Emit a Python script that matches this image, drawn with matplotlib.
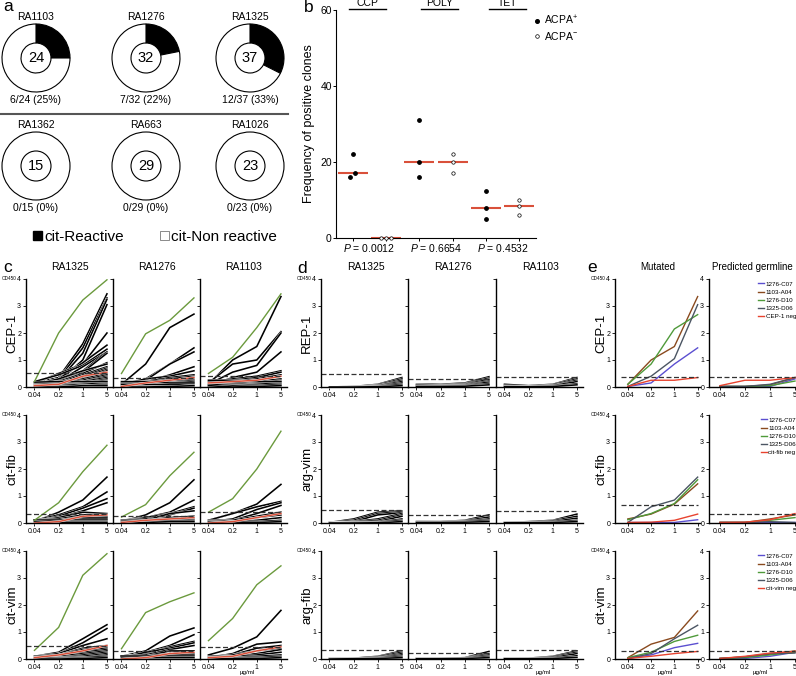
import matplotlib
matplotlib.use("Agg")
import numpy as np
import matplotlib.pyplot as plt
import matplotlib.patheffects as pe
from matplotlib.patches import Patch
from matplotlib.lines import Line2D

plt.rcParams["font.family"] = ["Liberation Sans", "DejaVu Sans"]
plt.rcParams["mathtext.fontset"] = "custom"
plt.rcParams["mathtext.rm"] = "Liberation Sans"
plt.rcParams["mathtext.it"] = "Liberation Sans:italic"

W, H = 796, 676

# ---------------- panel a data
donut_names = ["RA1103", "RA1276", "RA1325", "RA1362", "RA663", "RA1026"]
donut_total = [24, 32, 37, 15, 29, 23]
donut_reactive = [6, 7, 12, 0, 0, 0]
donut_pct = [25, 22, 33, 0, 0, 0]

# ---------------- panel b data
b_groups = ["CCP", "POLY", "TET"]
b_pvalues = ["0.0012", "0.6654", "0.4532"]
ccp_pos = [22, 17, 16]
ccp_neg = [0, 0, 0]
poly_pos = [31, 20, 16]
poly_neg = [22, 20, 17]
tet_pos = [12.5, 8, 5]
tet_neg = [10, 8.5, 6]

# ---------------- panels c/d/e data (OD450 per dose)
doses = ["0.04", "0.2", "1", "5"]
patients = ["RA1325", "RA1276", "RA1103"]
c_antigens = ["CEP-1", "cit-fib", "cit-vim"]
d_antigens = ["REP-1", "arg-vim", "arg-fib"]

c_cep1_1325 = [
    [0.15, 0.35, 1.6, 3.45], [0.1, 0.3, 1.45, 3.3], [0.12, 0.25, 1.25, 3.25],
    [0.1, 0.2, 1.0, 3.05], [0.15, 0.5, 0.85, 2.0], [0.1, 0.3, 0.9, 1.55],
    [0.2, 0.45, 0.8, 1.4], [0.1, 0.2, 0.75, 1.3], [0.15, 0.25, 0.6, 1.3],
    [0.05, 0.15, 0.55, 1.25], [0.1, 0.2, 0.5, 0.9], [0.1, 0.3, 0.6, 0.85],
    [0.05, 0.15, 0.45, 0.75], [0.1, 0.1, 0.4, 0.7], [0.05, 0.1, 0.35, 0.65],
    [0.15, 0.2, 0.3, 0.6], [0.05, 0.1, 0.3, 0.5], [0.1, 0.15, 0.25, 0.45],
    [0.05, 0.1, 0.2, 0.4], [0.1, 0.1, 0.2, 0.35], [0.05, 0.05, 0.15, 0.3],
    [0.0, 0.05, 0.15, 0.25], [0.05, 0.05, 0.1, 0.2], [0.0, 0.05, 0.1, 0.15],
    [0.0, 0.02, 0.05, 0.1], [0.0, 0.0, 0.05, 0.05], [0.18, 0.2, 0.2, 0.2],
]
c_cep1_1276 = [
    [0.1, 0.85, 2.2, 2.7], [0.05, 0.3, 0.85, 1.45], [0.1, 0.25, 0.85, 1.3],
    [0.05, 0.2, 0.45, 0.75], [0.1, 0.3, 0.4, 0.6], [0.05, 0.2, 0.35, 0.45],
    [0.1, 0.15, 0.3, 0.4], [0.05, 0.1, 0.25, 0.35], [0.15, 0.2, 0.25, 0.3],
    [0.05, 0.1, 0.2, 0.3], [0.1, 0.1, 0.15, 0.25], [0.05, 0.05, 0.15, 0.2],
    [0.0, 0.05, 0.1, 0.15], [0.05, 0.05, 0.1, 0.1], [0.0, 0.02, 0.05, 0.1],
    [0.1, 0.1, 0.1, 0.05], [0.0, 0.0, 0.02, 0.05], [0.2, 0.2, 0.15, 0.15],
]
c_cep1_1103 = [
    [0.1, 1.0, 1.5, 3.35], [0.15, 0.85, 1.0, 2.05], [0.1, 0.55, 0.8, 2.0],
    [0.05, 0.35, 0.55, 1.3], [0.15, 0.3, 0.4, 0.6], [0.1, 0.25, 0.35, 0.55],
    [0.2, 0.2, 0.3, 0.45], [0.1, 0.15, 0.25, 0.4], [0.05, 0.15, 0.2, 0.3],
    [0.1, 0.1, 0.15, 0.25], [0.05, 0.1, 0.1, 0.2], [0.0, 0.05, 0.1, 0.15],
    [0.1, 0.05, 0.05, 0.1], [0.05, 0.0, 0.02, 0.05], [0.25, 0.25, 0.2, 0.2],
]
c_fib_1325 = [
    [0.05, 0.4, 0.85, 1.7], [0.1, 0.3, 0.6, 1.15], [0.05, 0.25, 0.55, 0.9],
    [0.1, 0.2, 0.45, 0.75], [0.05, 0.2, 0.4, 0.35], [0.1, 0.15, 0.3, 0.3],
    [0.05, 0.1, 0.25, 0.25], [0.0, 0.1, 0.2, 0.2], [0.05, 0.05, 0.15, 0.15],
    [0.1, 0.1, 0.1, 0.1], [0.0, 0.05, 0.05, 0.05], [0.05, 0.02, 0.02, 0.02],
]
c_fib_1276 = [
    [0.05, 0.3, 0.75, 1.6], [0.1, 0.2, 0.4, 0.85], [0.05, 0.2, 0.35, 0.6],
    [0.1, 0.15, 0.3, 0.55], [0.05, 0.1, 0.35, 0.45], [0.05, 0.1, 0.2, 0.25],
    [0.1, 0.1, 0.15, 0.2], [0.0, 0.05, 0.1, 0.15], [0.05, 0.05, 0.1, 0.1],
    [0.0, 0.02, 0.05, 0.05],
]
c_fib_1103 = [
    [0.1, 0.35, 0.7, 1.43], [0.1, 0.35, 0.6, 0.8], [0.05, 0.15, 0.5, 0.75],
    [0.1, 0.1, 0.35, 0.65], [0.05, 0.1, 0.25, 0.4], [0.0, 0.05, 0.2, 0.3],
    [0.05, 0.05, 0.1, 0.2], [0.0, 0.05, 0.05, 0.1], [0.0, 0.0, 0.02, 0.05],
]
c_vim_1325 = [
    [0.1, 0.25, 0.75, 1.27], [0.05, 0.2, 0.6, 1.13], [0.1, 0.2, 0.5, 0.75],
    [0.05, 0.15, 0.4, 0.5], [0.1, 0.15, 0.35, 0.45], [0.05, 0.1, 0.3, 0.4],
    [0.1, 0.1, 0.25, 0.35], [0.05, 0.1, 0.2, 0.3], [0.0, 0.05, 0.15, 0.25],
    [0.05, 0.05, 0.1, 0.2], [0.0, 0.05, 0.05, 0.15], [0.05, 0.02, 0.05, 0.1],
    [0.0, 0.0, 0.02, 0.05],
]
c_vim_1276 = [
    [0.1, 0.3, 0.85, 1.15], [0.05, 0.25, 0.5, 0.9], [0.1, 0.2, 0.45, 0.65],
    [0.05, 0.25, 0.4, 0.6], [0.1, 0.15, 0.35, 0.5], [0.05, 0.1, 0.3, 0.3],
    [0.0, 0.1, 0.2, 0.2], [0.05, 0.05, 0.15, 0.15], [0.1, 0.1, 0.1, 0.1],
    [0.0, 0.05, 0.05, 0.05],
]
c_vim_1103 = [
    [0.15, 0.4, 0.82, 1.8], [0.05, 0.2, 0.55, 0.63], [0.1, 0.15, 0.4, 0.5],
    [0.05, 0.15, 0.3, 0.4], [0.1, 0.1, 0.2, 0.35], [0.05, 0.1, 0.15, 0.25],
    [0.0, 0.05, 0.1, 0.15], [0.05, 0.05, 0.05, 0.1], [0.0, 0.02, 0.02, 0.05],
]
c_black = [[c_cep1_1325, c_cep1_1276, c_cep1_1103],
           [c_fib_1325, c_fib_1276, c_fib_1103],
           [c_vim_1325, c_vim_1276, c_vim_1103]]
c_green = [[[0.2, 2.0, 3.22, 3.97], [0.5, 1.97, 2.47, 3.3], [0.5, 1.1, 2.2, 3.45]],
           [[0.1, 0.75, 1.9, 2.88], [0.22, 0.68, 1.75, 2.62], [0.4, 0.9, 2.0, 3.4]],
           [[0.32, 1.17, 3.1, 3.9], [0.38, 1.72, 2.12, 2.45], [0.68, 1.5, 2.75, 3.45]]]
c_red = [[[0.05, 0.1, 0.4, 0.55], [0.02, 0.15, 0.25, 0.35], [0.15, 0.2, 0.25, 0.4]],
         [[0.0, 0.05, 0.25, 0.3], [0.02, 0.1, 0.15, 0.2], [0.0, 0.05, 0.2, 0.35]],
         [[0.05, 0.15, 0.3, 0.5], [0.0, 0.05, 0.2, 0.25], [0.05, 0.1, 0.3, 0.45]]]
c_cut = [[0.53, 0.35, 0.4], [0.35, 0.25, 0.4], [0.5, 0.3, 0.45]]

d_rep1_1325 = [[0.0, 0.02, 0.1, 0.35], [0.0, 0.02, 0.08, 0.3], [0.0, 0.02, 0.05, 0.25],
               [0.0, 0.01, 0.05, 0.2], [0.0, 0.01, 0.03, 0.15], [0.0, 0.0, 0.02, 0.1],
               [0.0, 0.0, 0.01, 0.05]]
d_rep1_1276 = [[0.1, 0.1, 0.15, 0.38], [0.05, 0.08, 0.12, 0.33], [0.08, 0.06, 0.1, 0.28],
               [0.05, 0.05, 0.08, 0.22], [0.03, 0.04, 0.06, 0.18], [0.02, 0.03, 0.05, 0.12],
               [0.02, 0.02, 0.03, 0.08]]
d_rep1_1103 = [[0.1, 0.05, 0.1, 0.35], [0.05, 0.03, 0.08, 0.3], [0.03, 0.02, 0.05, 0.25],
               [0.02, 0.02, 0.05, 0.2], [0.02, 0.01, 0.03, 0.12], [0.01, 0.01, 0.02, 0.08]]
d_vim_1325 = [[0.02, 0.15, 0.4, 0.45], [0.02, 0.1, 0.35, 0.42], [0.02, 0.05, 0.3, 0.38],
              [0.0, 0.05, 0.15, 0.35], [0.0, 0.03, 0.1, 0.3], [0.0, 0.02, 0.05, 0.25],
              [0.0, 0.02, 0.03, 0.15], [0.0, 0.01, 0.02, 0.1], [0.0, 0.0, 0.01, 0.05]]
d_vim_1276 = [[0.05, 0.05, 0.1, 0.3], [0.05, 0.05, 0.08, 0.22], [0.03, 0.04, 0.06, 0.15],
              [0.02, 0.03, 0.05, 0.1], [0.02, 0.02, 0.03, 0.05]]
d_vim_1103 = [[0.02, 0.05, 0.1, 0.33], [0.02, 0.03, 0.08, 0.25], [0.01, 0.02, 0.05, 0.18],
              [0.01, 0.02, 0.03, 0.1], [0.01, 0.01, 0.02, 0.05]]
d_fib_1325 = [[0.02, 0.03, 0.1, 0.3], [0.02, 0.03, 0.08, 0.25], [0.01, 0.02, 0.05, 0.2],
              [0.01, 0.02, 0.04, 0.15], [0.01, 0.01, 0.03, 0.1], [0.0, 0.01, 0.02, 0.05]]
d_fib_1276 = [[0.02, 0.02, 0.05, 0.28], [0.02, 0.02, 0.04, 0.2], [0.01, 0.02, 0.03, 0.15],
              [0.01, 0.01, 0.02, 0.1], [0.01, 0.01, 0.02, 0.05]]
d_fib_1103 = [[0.02, 0.03, 0.1, 0.3], [0.02, 0.02, 0.08, 0.25], [0.01, 0.02, 0.05, 0.2],
              [0.01, 0.01, 0.03, 0.12], [0.01, 0.01, 0.02, 0.06]]
d_black = [[d_rep1_1325, d_rep1_1276, d_rep1_1103],
           [d_vim_1325, d_vim_1276, d_vim_1103],
           [d_fib_1325, d_fib_1276, d_fib_1103]]
d_cut = [[0.5, 0.3, 0.38], [0.5, 0.3, 0.45], [0.35, 0.22, 0.35]]

e_clones = ["1276-C07", "1103-A04", "1276-D10", "1325-D06"]
e_neg_labels = ["CEP-1 neg", "cit-fib neg", "cit-vim neg"]
e_mut_cep1 = [[0.02, 0.15, 0.85, 1.45], [0.1, 1.0, 1.5, 3.35],
              [0.1, 0.85, 2.15, 2.68], [0.02, 0.4, 1.05, 3.05]]
e_mut_fib = [[0.02, 0.02, 0.02, 0.12], [0.15, 0.33, 0.7, 1.45],
             [0.12, 0.35, 0.72, 1.6], [0.02, 0.6, 0.85, 1.7]]
e_mut_vim = [[0.02, 0.15, 0.42, 0.58], [0.05, 0.55, 0.8, 1.78],
             [0.05, 0.25, 0.65, 0.88], [0.02, 0.2, 0.75, 1.25]]
e_germ_cep1 = [[0.02, 0.02, 0.02, 0.3], [0.02, 0.02, 0.08, 0.35],
               [0.02, 0.02, 0.05, 0.22], [0.02, 0.02, 0.1, 0.35]]
e_germ_fib = [[0.02, 0.02, 0.02, 0.02], [0.02, 0.02, 0.15, 0.3],
              [0.02, 0.02, 0.1, 0.2], [0.02, 0.02, 0.05, 0.02]]
e_germ_vim = [[0.02, 0.02, 0.1, 0.25], [0.02, 0.08, 0.18, 0.3],
              [0.02, 0.05, 0.15, 0.25], [0.02, 0.08, 0.2, 0.22]]
e_mut = [e_mut_cep1, e_mut_fib, e_mut_vim]
e_germ = [e_germ_cep1, e_germ_fib, e_germ_vim]
e_mut_neg = [[0.02, 0.25, 0.25, 0.35], [0.02, 0.03, 0.1, 0.33], [0.02, 0.1, 0.2, 0.28]]
e_germ_neg = [[0.05, 0.25, 0.25, 0.35], [0.02, 0.03, 0.12, 0.35], [0.02, 0.1, 0.22, 0.28]]
e_mut_cut = [0.38, 0.65, 0.3]
e_germ_cut = [0.38, 0.33, 0.3]

# ---------------- styles
GREEN = "#6b9a3d"
RED = "#d9503a"
E_COLORS = ["#5b4fd0", "#8a4a1e", "#4f9a3a", "#4b5563"]
E_RED = "#e8432f"
white_edge = [pe.Stroke(linewidth=1.6, foreground="white"), pe.Normal()]

fig = plt.figure(figsize=(W / 100, H / 100), dpi=100)


def px_axes(x, y, w, h):
    return fig.add_axes([x / W, 1 - (y + h) / H, w / W, h / H])


# ---------------- panel a: donuts
ax_a = px_axes(0, 0, 300, 250)
donut_cx = [36, 146, 250, 36, 146, 250]
donut_cy = [58, 58, 58, 166, 166, 166]
for i, name in enumerate(donut_names):
    cx, cy = donut_cx[i], 250 - donut_cy[i]
    r, t = donut_reactive[i], donut_total[i]
    ax_a.pie([r, t - r], colors=["black", "white"], startangle=90, counterclock=False,
             radius=34, center=(cx, cy),
             wedgeprops=dict(width=19, edgecolor="black", linewidth=0.8))
    ax_a.text(cx, cy, str(t), ha="center", va="center", fontsize=10.5)
    ax_a.text(cx, cy + 41, name, ha="center", va="center", fontsize=7.5)
    ax_a.text(cx, cy - 42, f"{r}/{t} ({donut_pct[i]}%)", ha="center", va="center", fontsize=7.5)
ax_a.axhline(250 - 114, xmin=0, xmax=288 / 300, color="#555555", lw=1.5)
ax_a.set_xlim(0, 300)
ax_a.set_ylim(0, 250)
ax_a.axis("off")
fig.legend(handles=[Patch(fc="black", ec="black"), Patch(fc="white", ec="#777777", lw=0.6)],
           labels=["cit-Reactive", "cit-Non reactive"], loc="center",
           bbox_to_anchor=(155 / W, 1 - 237 / H), ncol=2, frameon=False, fontsize=11,
           handlelength=0.55, handleheight=0.55, handletextpad=0.15, columnspacing=2.4)

# ---------------- panel b: dot plot
ax_b = px_axes(336, 10, 200, 228)
b_pos = [ccp_pos, poly_pos, tet_pos]
b_neg = [ccp_neg, poly_neg, tet_neg]
b_pos_off = [[0, 0.08, -0.07], [0, 0, 0], [0, 0, 0]]
b_neg_off = [[-0.15, 0, 0.15], [0, 0, 0], [0, 0, 0]]
b_header_x = [1.45, 3.6, 5.65]
for g in range(3):
    xp, xn = 2 * g + 1, 2 * g + 2
    ax_b.scatter(np.array(b_pos_off[g]) + xp, b_pos[g], s=6, color="black", zorder=3, clip_on=False)
    ax_b.scatter(np.array(b_neg_off[g]) + xn, b_neg[g], s=6, facecolor="white",
                 edgecolor="black", linewidth=0.5, zorder=3, clip_on=False)
    ax_b.hlines([np.median(b_pos[g]), np.median(b_neg[g])], [xp - 0.45, xn - 0.45],
                [xp + 0.45, xn + 0.45], color=RED, lw=1.5, zorder=2, clip_on=False)
    ax_b.annotate(f"$\\it{{P}}$ = {b_pvalues[g]}", xy=(xp + 0.5, 0),
                  xycoords=("data", "axes fraction"), xytext=(0, -7.5),
                  textcoords="offset points", ha="center", va="center", fontsize=7.5)
    hx = b_header_x[g]
    ax_b.plot([hx - 0.55, hx + 0.55], [60.2, 60.2], color="black", lw=1.0, clip_on=False)
    ax_b.text(hx, 60.4, b_groups[g], ha="center", va="bottom", fontsize=7.5)
ax_b.set_xlim(0.5, 6.5)
ax_b.set_ylim(0, 60)
ax_b.set_yticks([0, 20, 40, 60])
ax_b.set_xticks(range(1, 7))
ax_b.set_xticklabels([])
ax_b.tick_params(labelsize=7.5, length=2, width=0.7, pad=1)
for s in ["top", "right"]:
    ax_b.spines[s].set_visible(False)
ax_b.set_ylabel("Frequency of positive clones", fontsize=9)
ax_b.yaxis.set_label_coords(-0.105, 0.5)
fig.legend(handles=[Line2D([], [], marker="o", ls="", color="black", ms=2.6),
                    Line2D([], [], marker="o", ls="", mfc="white", mec="black", mew=0.5, ms=2.6)],
           labels=["ACPA$^{+}$", "ACPA$^{-}$"], loc="upper left",
           bbox_to_anchor=(534 / W, 1 - 14 / H), frameon=False, fontsize=7.5,
           handlelength=0.6, handletextpad=0.4, labelspacing=0.25, borderpad=0, borderaxespad=0)

# ---------------- panels c/d/e: titration curves
row_top = [279, 415, 551]
xs = np.arange(len(doses))


def clone_axes(left, top, w, xlim, labels):
    ax = px_axes(left, top, w, 108)
    ax.set_xlim(*xlim)
    ax.set_ylim(0, 4)
    for s in ["top", "right"]:
        ax.spines[s].set_visible(False)
    for s in ["left", "bottom"]:
        ax.spines[s].set_linewidth(1.0)
    ax.set_xticks(xs)
    ax.set_xticklabels(doses)
    ax.set_yticks(range(5))
    if not labels:
        ax.set_yticklabels([])
    ax.tick_params(labelsize=5, length=2, width=0.6, pad=1.5)
    return ax


def first_col(ax, name):
    ax.set_ylabel(name, fontsize=9.5)
    ax.yaxis.set_label_coords(-0.09, 0.5)
    ax.annotate("OD450", xy=(0, 1), xycoords="axes fraction", xytext=(-7, 0),
                textcoords="offset points", ha="right", va="center", fontsize=3.3)


def ugml(ax):
    ax.annotate("µg/ml", xy=(1.6, 0), xycoords=("data", "axes fraction"), xytext=(0, -9.5),
                textcoords="offset points", ha="center", va="center", fontsize=4.5)


c_left = [26, 113, 200]
d_left = [321, 408, 496]
cd_xlim = (-0.35, 3.25)
for r in range(3):
    for c in range(3):
        ax = clone_axes(c_left[c], row_top[r], 87, cd_xlim, c == 0)
        for ln in c_black[r][c]:
            ax.plot(xs, ln, color="black", lw=1.15, path_effects=white_edge, clip_on=False)
        ax.plot(xs, c_red[r][c], color=RED, lw=1.1, path_effects=white_edge, clip_on=False)
        ax.plot(xs, c_green[r][c], color=GREEN, lw=1.0)
        ax.hlines(c_cut[r][c], cd_xlim[0], 3, color="#333333", lw=0.9, linestyles=(0, (4, 2)))
        if c == 0:
            first_col(ax, c_antigens[r])
        if r == 0:
            fig.text((c_left[c] + 43.5) / W, 1 - 267 / H, patients[c], ha="center",
                     va="center", fontsize=7.5)
        if r == 2 and c == 2:
            ugml(ax)

        ax = clone_axes(d_left[c], row_top[r], 87, cd_xlim, c == 0)
        for ln in d_black[r][c]:
            ax.plot(xs, ln, color="black", lw=1.15, path_effects=white_edge, clip_on=False)
        ax.hlines(d_cut[r][c], cd_xlim[0], 3, color="#333333", lw=0.9, linestyles=(0, (4, 2)))
        if c == 0:
            first_col(ax, d_antigens[r])
        if r == 0:
            fig.text((d_left[c] + 45) / W, 1 - 267 / H, patients[c], ha="center",
                     va="center", fontsize=7.5)
        if r == 2 and c == 2:
            ugml(ax)

e_left = [615, 709]
e_width = [85, 87]
e_xlim = [(-0.55, 3.1), (-0.44, 3.04)]
e_titles = ["Mutated", "Predicted germline"]
for r in range(3):
    for c in range(2):
        ax = clone_axes(e_left[c], row_top[r], e_width[c], e_xlim[c], True)
        series = e_mut[r] if c == 0 else e_germ[r]
        neg = e_mut_neg[r] if c == 0 else e_germ_neg[r]
        cut = e_mut_cut[r] if c == 0 else e_germ_cut[r]
        for k, ln in enumerate(series):
            ax.plot(xs, ln, color=E_COLORS[k], lw=1.0, label=e_clones[k], clip_on=False)
        ax.plot(xs, neg, color=E_RED, lw=1.0, label=e_neg_labels[r], clip_on=False)
        ax.hlines(cut, -0.3 if c == 0 else e_xlim[1][0], 3, color="#333333", lw=0.9,
                  linestyles=(0, (4, 2)))
        if c == 0:
            first_col(ax, c_antigens[r])
        else:
            ax.legend(loc="upper right", bbox_to_anchor=(1.0, 0.98), frameon=False,
                      fontsize=4.5, handlelength=0.9, handletextpad=0.3, labelspacing=0.45,
                      borderpad=0, borderaxespad=0)
        if r == 0:
            fig.text((e_left[c] + e_width[c] / 2) / W, 1 - 267 / H, e_titles[c],
                     ha="center", va="center", fontsize=7)
        if r == 2:
            ugml(ax)

# panel letters
for lx, ly, lab in [(3, 11, "a"), (304, 12, "b"), (3, 272, "c"), (297, 273, "d"), (587, 272, "e")]:
    fig.text(lx / W, 1 - ly / H, lab, fontsize=12.5, va="baseline", ha="left")

fig.savefig("out.png", dpi=100)
